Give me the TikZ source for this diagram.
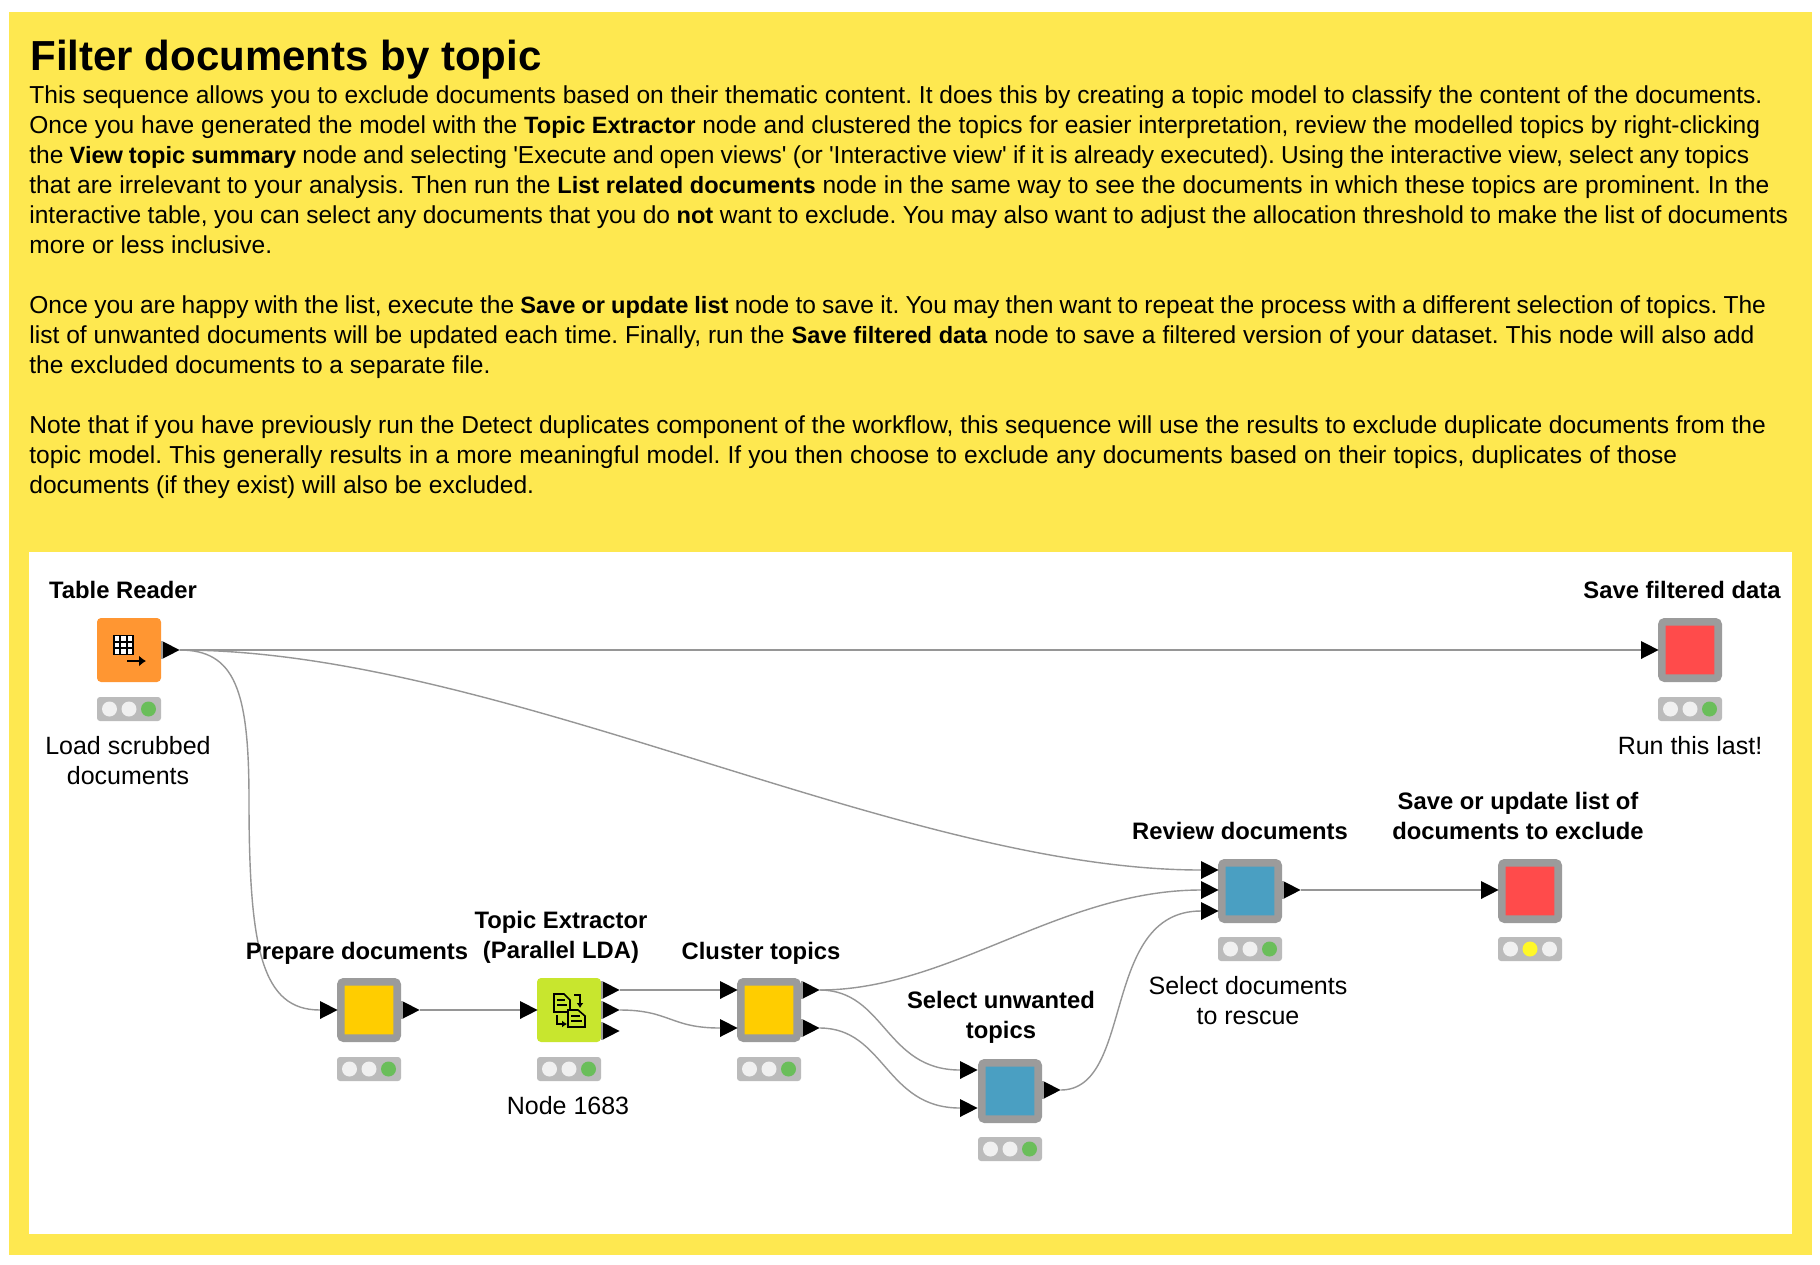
\documentclass[tikz,border=0pt]{standalone}
\usepackage{fontspec}
\setmainfont{Liberation Sans}[Ligatures={TeXOff,NoCommon}]
\usepackage{tikz}
\usetikzlibrary{shapes.geometric, arrows.meta}
\definecolor{pageyellow}{RGB}{254, 232, 80}
\definecolor{framegray}{RGB}{155, 155, 155}
\definecolor{statgray}{RGB}{187, 187, 187}
\definecolor{lampoff}{RGB}{240, 240, 240}
\definecolor{lampgreen}{RGB}{106, 190, 90}
\definecolor{lampyellow}{RGB}{255, 248, 40}
\definecolor{metaorange}{RGB}{255, 150, 50}
\definecolor{metayellow}{RGB}{255, 205, 0}
\definecolor{metablue}{RGB}{74, 159, 194}
\definecolor{metared}{RGB}{255, 75, 75}
\definecolor{metalime}{RGB}{200, 230, 46}
\definecolor{wiregray}{RGB}{150, 150, 150}
\newcommand{\kb}[1]{{\fontsize{11.8}{15}\selectfont\bfseries #1}}
\newcommand{\fitline}[2]{\hbox to #1pt{#2}}

\begin{document}
\begin{tikzpicture}[
  x=0.5pt, y=-0.5pt,
  metabox/.style={draw=framegray, line width=3.8pt, rounded corners=1.5pt, minimum size=28.2pt, inner sep=0pt},
  plainbox/.style={rounded corners=2pt, minimum size=32pt, inner sep=0pt},
  statbox/.style={fill=statgray, rounded corners=1.5pt, minimum width=32pt, minimum height=12pt, inner sep=0pt},
  lamp/.style={circle, minimum size=7.5pt, inner sep=0pt},
  portin/.style={isosceles triangle, isosceles triangle stretches, fill=black, minimum width=9pt, minimum height=8.8pt, inner sep=0pt, outer sep=0pt, anchor=lower side},
  wire/.style={draw=wiregray, line width=0.7pt},
  boldlabel/.style={font=\fontsize{11.9}{15}\selectfont\bfseries, align=center, inner sep=0pt},
  pluslabel/.style={font=\fontsize{12.5}{15}\selectfont, align=center, inner sep=0pt}
]
  \useasboundingbox (0, 0) rectangle (1820, 1264);
  \fill[white] (0, 0) rectangle (1820, 1264);
  \fill[pageyellow] (9, 12) rectangle (1812, 1255);
  \fill[white] (29, 552) rectangle (1792, 1234);

  \node[anchor=west, inner sep=0pt, font=\fontsize{21}{24}\selectfont\bfseries] (title) at (30, 60) {Filter documents by topic};
  \node[anchor=north west, inner sep=0pt, align=left, font=\fontsize{12.27}{15}\selectfont\frenchspacing] (body) at (29, 85.5) {%
\fitline{866.5}{This sequence allows you to exclude documents based on their thematic content. It does this by creating a topic model to classify the content of the documents.}\\
\fitline{865.4}{Once you have generated the model with the \kb{Topic Extractor} node and clustered the topics for easier interpretation, review the modelled topics by right-clicking}\\
\fitline{860}{the \kb{View topic summary} node and selecting 'Execute and open views' (or 'Interactive view' if it is already executed). Using the interactive view, select any topics}\\
\fitline{870}{that are irrelevant to your analysis. Then run the \kb{List related documents} node in the same way to see the documents in which these topics are prominent. In the}\\
\fitline{879.3}{interactive table, you can select any documents that you do \kb{not} want to exclude. You may also want to adjust the allocation threshold to make the list of documents}\\
more or less inclusive.\\
~\\
\fitline{868.3}{Once you are happy with the list, execute the \kb{Save or update list} node to save it. You may then want to repeat the process with a different selection of topics. The}\\
\fitline{862.5}{list of unwanted documents will be updated each time. Finally, run the \kb{Save filtered data} node to save a filtered version of your dataset. This node will also add}\\
the excluded documents to a separate file.\\
~\\
\fitline{868.3}{Note that if you have previously run the Detect duplicates component of the workflow, this sequence will use the results to exclude duplicate documents from the}\\
\fitline{824}{topic model. This generally results in a more meaningful model. If you then choose to exclude any documents based on their topics, duplicates of those}\\
documents (if they exist) will also be excluded.};

  % workflow nodes
  \node[plainbox, fill=metaorange] (reader) at (129, 650) {};
  \node[plainbox, fill=metalime] (extractor) at (569, 1010) {};
  \node[metabox, fill=metayellow] (prepare) at (369, 1010) {};
  \node[metabox, fill=metayellow] (cluster) at (769, 1010) {};
  \node[metabox, fill=metablue] (unwanted) at (1010, 1091) {};
  \node[metabox, fill=metablue] (review) at (1250, 891) {};
  \node[metabox, fill=metared] (savelist) at (1530, 891) {};
  \node[metabox, fill=metared] (savedata) at (1690, 650) {};

  % status lights
  \foreach \nm/\cx/\cy/\lampa/\lampb/\lampc in {
    reader/129/709/lampoff/lampoff/lampgreen, prepare/369/1069/lampoff/lampoff/lampgreen,
    extractor/569/1069/lampoff/lampoff/lampgreen, cluster/769/1069/lampoff/lampoff/lampgreen,
    unwanted/1010/1149/lampoff/lampoff/lampgreen, review/1250/949/lampoff/lampoff/lampgreen,
    savelist/1530/949/lampoff/lampyellow/lampoff, savedata/1690/709/lampoff/lampoff/lampgreen} {
    \node[statbox] (\nm stat) at (\cx, \cy) {};
    \node[lamp, fill=\lampa] (\nm a) at (\cx-19.5, \cy) {};
    \node[lamp, fill=\lampb] (\nm b) at (\cx, \cy) {};
    \node[lamp, fill=\lampc] (\nm c) at (\cx+19.5, \cy) {};
  }

  % ports
  \node[portin] (readerout) at (162, 650) {};
  \node[portin] (prepin) at (320, 1010) {};
  \node[portin] (prepout) at (402, 1010) {};
  \node[portin] (extin) at (520, 1010) {};
  \node[portin] (extouta) at (602, 990) {};
  \node[portin] (extoutb) at (602, 1010) {};
  \node[portin] (extoutc) at (602, 1031) {};
  \node[portin] (clusina) at (720, 990) {};
  \node[portin] (clusinb) at (720, 1028) {};
  \node[portin] (clusouta) at (802, 990) {};
  \node[portin] (clusoutb) at (802, 1028) {};
  \node[portin] (unwina) at (960, 1070) {};
  \node[portin] (unwinb) at (960, 1108) {};
  \node[portin] (unwout) at (1043, 1090) {};
  \node[portin] (revina) at (1201, 870) {};
  \node[portin] (revinb) at (1201, 890) {};
  \node[portin] (revinc) at (1201, 911) {};
  \node[portin] (revout) at (1283, 890) {};
  \node[portin] (listin) at (1481, 890) {};
  \node[portin] (datain) at (1641, 650) {};
  \foreach \pt in {readerout, prepout, extouta, extoutb, extoutc, clusouta, clusoutb, unwout, revout}
    \draw[framegray, line width=0.9pt] (\pt.left corner) -- (\pt.right corner);

  % connections
  \draw[wire] (readerout.apex) -- (datain.lower side);
  \draw[wire] (readerout.apex) .. controls (235, 650) and (249, 690) .. (249, 800) .. controls (249, 950) and (262, 1010) .. (prepin.lower side);
  \draw[wire] (readerout.apex) .. controls (500, 650) and (900, 870) .. (revina.lower side);
  \draw[wire] (prepout.apex) -- (extin.lower side);
  \draw[wire] (extouta.apex) -- (clusina.lower side);
  \draw[wire] (extoutb.apex) .. controls (670, 1010) and (670, 1028) .. (clusinb.lower side);
  \draw[wire] (clusouta.apex) .. controls (950, 990) and (1060, 890) .. (revinb.lower side);
  \draw[wire] (clusouta.apex) .. controls (885, 990) and (885, 1070) .. (unwina.lower side);
  \draw[wire] (clusoutb.apex) .. controls (885, 1028) and (885, 1108) .. (unwinb.lower side);
  \draw[wire] (unwout.apex) .. controls (1135, 1090) and (1100, 911) .. (revinc.lower side);
  \draw[wire] (revout.apex) -- (listin.lower side);

  % icons
  \fill[white] (113, 635) rectangle (133, 655);
  \foreach \g in {114, 120.2, 126.7, 133} {
    \draw[black, line width=0.9pt] (\g, 635) -- (\g, 655);
    \draw[black, line width=0.9pt] (113, 635+\g-113.5) -- (133.6, 635+\g-113.5);
  }
  \draw[black, line width=1.4pt, -{Latex[length=3.5pt, width=5.5pt]}] (127, 661) -- (146, 661);

  \draw[black, line width=0.8pt, fill=metalime] (554, 994) -- (564, 994) -- (570, 1000) -- (570, 1012) -- (554, 1012) -- cycle;
  \draw[black, line width=0.8pt] (557, 1000) -- (565, 1000) (557, 1005) -- (567, 1005);
  \draw[black, line width=0.8pt, fill=metalime] (568, 1010) -- (578, 1010) -- (585, 1016) -- (585, 1027) -- (568, 1027) -- cycle;
  \draw[black, line width=0.8pt] (571, 1016) -- (580, 1016) (571, 1021) -- (582, 1021);
  \draw[black, line width=0.8pt, -{Latex[length=2.5pt, width=3.5pt]}] (574, 995) -- (580, 995) -- (580, 1008);
  \draw[black, line width=0.8pt, -{Latex[length=2.5pt, width=3.5pt]}] (557, 1015) -- (557, 1024) -- (567, 1024);

  % labels
  \node[boldlabel] (readertop) at (123, 590) {Table Reader};
  \node[pluslabel] (readerlow) at (128, 761) {Load scrubbed\\documents};
  \node[boldlabel] (datatop) at (1682, 590) {Save filtered data};
  \node[pluslabel] (datalow) at (1690, 746) {Run this last!};
  \node[boldlabel] (listtop) at (1518, 816) {Save or update list of\\documents to exclude};
  \node[boldlabel] (reviewtop) at (1240, 831) {Review documents};
  \node[pluslabel] (reviewlow) at (1248, 1001) {Select documents\\to rescue};
  \node[boldlabel] (unwantedtop) at (1001, 1017) {Select unwanted\\topics};
  \node[boldlabel] (preparetop) at (357, 953) {Prepare documents};
  \node[boldlabel] (extractortop) at (561, 937) {Topic Extractor\\(Parallel LDA)};
  \node[pluslabel] (extractorlow) at (568, 1106) {Node 1683};
  \node[boldlabel] (clustertop) at (761, 953) {Cluster topics};
\end{tikzpicture}
\end{document}
